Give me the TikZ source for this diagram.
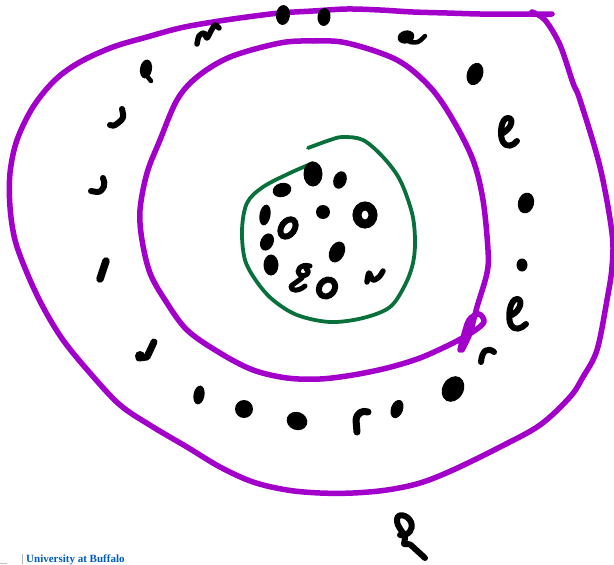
\documentclass[tikz,border=0pt]{standalone}
\usepackage{fontspec}
\setmainfont{Liberation Serif}
\definecolor{penpurple}{RGB}{162,0,202}
\definecolor{pengreen}{RGB}{8,112,58}
\definecolor{ubblue}{RGB}{0,91,187}
\tikzset{
  purpleloop/.style={draw=penpurple,line width=5.5pt,line cap=round,line join=round},
  greenloop/.style={draw=pengreen,line width=3.8pt,line cap=round,line join=round},
  ink/.style={draw=black,line width=6pt,line cap=round,line join=round},
  blob/.style={fill=black},
  ring/.style={draw=black,line width=6pt}
}
\begin{document}
\begin{tikzpicture}[x=1pt,y=-1pt]
\useasboundingbox (0,0) rectangle (614,565);
% outer purple loop
\draw[purpleloop] plot[smooth,tension=0.55] coordinates {
 (552,14) (513,14) (480,14) (447,13) (413,12) (380,10) (347,9) (313,11) (280,13)
 (247,17) (213,22) (180,28) (147,37) (113,47) (80,62) (55,80) (33,107) (17,140)
 (10,173) (10,207) (15,240) (27,273) (43,307) (63,340) (90,373) (120,405) (153,427)
 (187,447) (220,467) (253,482) (287,490) (320,493) (353,493) (387,490) (420,483)
 (453,470) (500,447) (540,425) (570,397) (583,377) (597,350) (607,300) (612,267)
 (612,233) (600,167) (580,100) (573,83) (560,45) (545,20) (532,12)};
% inner purple loop
\draw[purpleloop] plot[smooth,tension=0.55] coordinates {
 (462,350) (470,333) (477,307) (487,273) (488,250) (483,200) (473,160) (453,120)
 (430,87) (397,60) (347,43) (313,41) (280,43) (230,57) (197,77) (177,100) (160,140)
 (147,173) (140,210) (142,240) (150,273) (165,300) (187,330) (220,353) (253,370)
 (287,378) (320,379) (353,375) (387,368) (420,358) (453,343) (474,331) (484,322)
 (479,314) (469,320) (463,338) (460,350)};
% green loop
\draw[greenloop] plot[smooth,tension=0.55] coordinates {
 (308,148) (330,140) (343,137) (363,140) (383,157) (400,180) (412,213) (415,240)
 (413,263) (405,285) (390,307) (363,318) (330,322) (297,315) (273,300) (257,282)
 (245,260) (242,230) (247,203) (263,187) (290,173) (313,163)};
% marks between the loops
\fill[blob,rotate around={-5:(283,15)}] (283,15) ellipse (7pt and 10pt);
\fill[blob,rotate around={-5:(324,17)}] (324,17) ellipse (6.5pt and 9pt);
\draw[ink,line width=5.5pt] plot[smooth] coordinates {(197,44) (199,36) (204,33) (207,38) (211,31) (215,25) (219,28)};
\fill[blob,rotate around={-10:(146,69)}] (146,69) ellipse (6pt and 9.5pt);
\draw[ink,line width=4.5pt] (147,76) -- (151,81);
\fill[blob,rotate around={15:(406,37)}] (406,37) ellipse (8.5pt and 6.5pt);
\draw[ink,line width=4.5pt] (410,42) .. controls (418,43) .. (425,36);
\fill[blob,rotate around={-20:(475,74)}] (475,74) ellipse (8pt and 11.5pt);
\draw[ink] (122,109) .. controls (124,118) .. (118,123) .. controls (114,126) .. (110,125);
\draw[ink] (503,133) .. controls (512,128) and (514,118) .. (508,118) .. controls (501,118) and (499,135) .. (503,142) .. controls (507,148) and (513,146) .. (517,141);
\draw[ink] (103,178) .. controls (106,183) and (104,192) .. (97,192) -- (91,191);
\fill[blob,rotate around={-15:(526,203)}] (526,203) ellipse (8pt and 10.5pt);
\draw[ink,line width=7.5pt] (106,261) -- (100,279);
\fill[blob] (522,265) ellipse (5.5pt and 6.5pt);
\draw[ink] (512,315) .. controls (521,310) and (523,299) .. (517,299) .. controls (510,299) and (507,318) .. (511,325) .. controls (515,331) and (521,329) .. (526,324);
\draw[ink,line width=7pt] (154,342) -- (147,357) -- (139,358);
\fill[blob] (140,356) circle (5pt);
\draw[ink] (494,352) .. controls (488,347) and (482,350) .. (481,362);
\fill[blob,rotate around={-10:(199,395)}] (199,395) ellipse (5.5pt and 9.5pt);
\fill[blob] (244,409) circle (9pt);
\fill[blob,rotate around={-20:(297,421)}] (297,421) ellipse (10.5pt and 9pt);
\draw[ink,line width=7pt] (357,432) -- (356,420) .. controls (357,413) and (362,410) .. (368,412);
\fill[blob,rotate around={-20:(397,409)}] (397,409) ellipse (6pt and 9.5pt);
\fill[blob,rotate around={-30:(453,389)}] (453,389) ellipse (10.5pt and 13.5pt);
% scribble below the outer loop
\draw[ink] (400,535) .. controls (408,536) and (414,530) .. (411,522) .. controls (408,515) and (397,512) .. (397,520) .. controls (397,528) and (403,530) .. (405,538) -- (404,544) .. controls (410,544) .. (413,547) -- (425,558);
% marks inside the green loop
\fill[blob] (313,174) ellipse (9.5pt and 12.5pt);
\fill[blob,rotate around={-20:(340,180)}] (340,180) ellipse (6.5pt and 9pt);
\fill[blob,rotate around={15:(282,190)}] (282,190) ellipse (9.5pt and 7pt);
\fill[blob,rotate around={-10:(265,215)}] (265,215) ellipse (5.5pt and 10.5pt);
\draw[ring,rotate around={-35:(288,228)}] (288,228) ellipse (6.5pt and 9.5pt);
\fill[blob] (323,212) ellipse (7pt and 7pt);
\draw[ring,line width=9pt] (365,215) ellipse (8pt and 9pt);
\fill[blob,rotate around={-25:(267,242)}] (267,242) ellipse (6.5pt and 9pt);
\fill[blob,rotate around={-25:(337,252)}] (337,252) ellipse (7.5pt and 11pt);
\fill[blob] (271,265) ellipse (7.5pt and 10.5pt);
\draw[ink,line width=5pt] (310,266) .. controls (300,263) and (295,272) .. (300,275) .. controls (305,278) and (312,272) .. (306,269);
\draw[ink,line width=5pt] (302,278) -- (291,286) .. controls (290,291) and (298,292) .. (305,286);
\draw[ring,rotate around={-40:(327,288)}] (327,288) ellipse (7.5pt and 9pt);
\draw[ink,line width=5.5pt] plot[smooth] coordinates {(367,282) (369,273) (373,280) (379,277) (383,271)};
% footer
\draw[gray!50,line width=1pt] (0,563) -- (7,563);
\draw[gray!60,line width=0.8pt] (22,554) -- (22,564);
\node[anchor=base west,inner sep=0pt,text=ubblue,font=\fontsize{11}{13}\selectfont\bfseries] (ub) at (26,562.5) {University at Buffalo};
\end{tikzpicture}
\end{document}
